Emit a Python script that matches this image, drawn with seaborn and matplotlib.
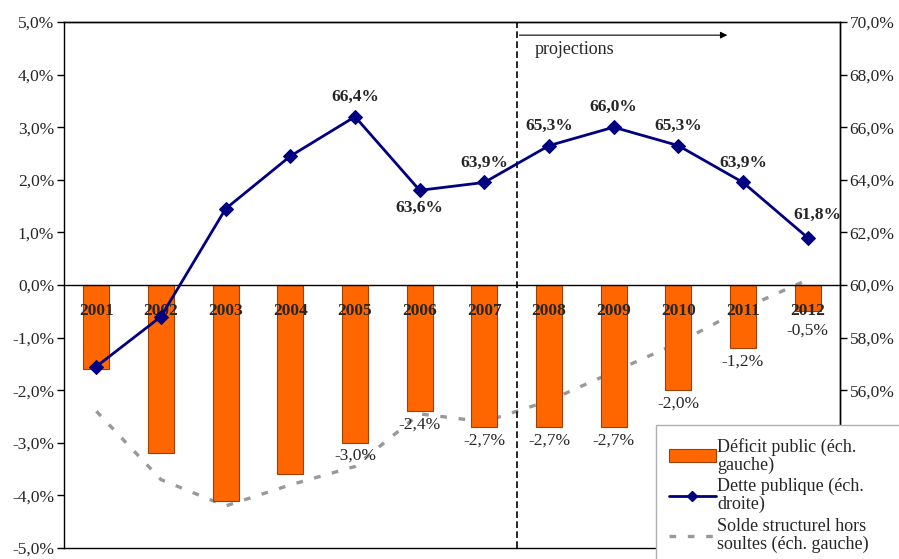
import matplotlib
matplotlib.use("Agg")
import matplotlib.pyplot as plt
import matplotlib.ticker as ticker
from matplotlib.patches import Patch
from matplotlib.lines import Line2D
import seaborn as sns
import pandas as pd
import numpy as np

years = ["2001", "2002", "2003", "2004", "2005", "2006",
         "2007", "2008", "2009", "2010", "2011", "2012"]
deficit = [-1.6, -3.2, -4.1, -3.6, -3.0, -2.4, -2.7, -2.7, -2.7, -2.0, -1.2, -0.5]
dette = [56.9, 58.8, 62.9, 64.9, 66.4, 63.6, 63.9, 65.3, 66.0, 65.3, 63.9, 61.8]
solde = [-2.4, -3.7, -4.2, -3.8, -3.45, -2.45, -2.6, -2.2, -1.65, -1.1, -0.45, 0.1]

# which points get a value label
deficit_labelled = ["2005", "2006", "2007", "2008", "2009", "2010", "2011", "2012"]
dette_labelled = ["2005", "2006", "2007", "2008", "2009", "2010", "2011", "2012"]
dette_below = ["2006"]

ORANGE = "#FF6600"
NAVY = "#000080"
GREY = "#999999"
FS = 12.5

sns.set_style("white")
plt.rcParams["font.family"] = ["Liberation Serif", "DejaVu Serif"]

df = pd.DataFrame({"annee": years, "deficit": deficit, "dette": dette, "solde": solde})


def pct(v, pos):
    return ("%.1f%%" % v).replace(".", ",")


def pct_right(v, pos):
    # the lowest right-hand labels sit under the legend box
    if v < 55:
        return ""
    return pct(v, pos)


fig = plt.figure(figsize=(8.99, 5.59), dpi=100)
ax = fig.add_axes([64 / 899, 1 - 548 / 559, (840 - 64) / 899, (548 - 22) / 559])

# structural balance, behind the bars
sns.lineplot(data=df, x="annee", y="solde", ax=ax, color=GREY, lw=2.4,
             sort=False, zorder=0.5)
ax.lines[-1].set_dashes([2, 3.5])

sns.barplot(data=df, x="annee", y="deficit", ax=ax, color=ORANGE, width=0.4,
            edgecolor="#a04000", linewidth=0.8, saturation=1, zorder=1)

ax.set_xlim(-0.5, 11.5)
ax.set_ylim(-5, 5)
ax.set_xlabel("")
ax.set_ylabel("")
ax.yaxis.set_major_locator(ticker.MultipleLocator(1))
ax.yaxis.set_major_formatter(ticker.FuncFormatter(pct))
ax.set_xticks(np.arange(0.5, 11, 1))
ax.set_xticklabels([])
ax.tick_params(axis="x", direction="inout", length=10, width=1, color="black")
ax.tick_params(axis="y", direction="out", length=5, width=1, color="black",
               labelsize=FS, left=True, pad=2)
ax.spines["bottom"].set_position(("data", 0))
for s in ax.spines.values():
    s.set_color("black")
    s.set_linewidth(1)

# year labels inside the bars
for i, y in enumerate(years):
    ax.text(i, -0.5, y, ha="center", va="center", fontsize=FS, fontweight="bold")

# deficit value labels under bar ends
for i, y in enumerate(years):
    if y in deficit_labelled:
        off = 0.22 if y == "2012" else 0.1
        ax.text(i, deficit[i] - off, pct(deficit[i], None), ha="center", va="top",
                fontsize=FS)

# projections marker
ax.axvline(6.5, color="black", lw=1.2, ls=(0, (4, 2)))
ax.annotate("", xy=(9.8, 4.75), xytext=(6.5, 4.75),
            arrowprops=dict(arrowstyle="-|>", color="black", lw=0.8,
                            mutation_scale=10))
ax.text(6.78, 4.48, "projections", ha="left", va="center", fontsize=13)

# debt on the right axis
ax2 = ax.twinx()
sns.lineplot(data=df, x="annee", y="dette", ax=ax2, color=NAVY, lw=2,
             marker="D", markersize=7, markeredgecolor=NAVY, sort=False)
ax2.set_ylim(50, 70)
ax2.set_ylabel("")
ax2.yaxis.set_major_locator(ticker.MultipleLocator(2))
ax2.yaxis.set_major_formatter(ticker.FuncFormatter(pct_right))
ax2.tick_params(axis="y", direction="out", length=5, width=1, color="black",
                labelsize=FS, right=True, pad=2)
for s in ax2.spines.values():
    s.set_color("black")
    s.set_linewidth(1)
ax2.spines["left"].set_visible(False)

for i, y in enumerate(years):
    if y in dette_labelled:
        if y in dette_below:
            ax2.text(i, dette[i] - 0.35, pct(dette[i], None), ha="center", va="top",
                     fontsize=FS, fontweight="bold")
        elif y == "2012":
            ax2.text(i + 0.15, dette[i] + 0.55, pct(dette[i], None), ha="center",
                     va="bottom", fontsize=FS, fontweight="bold")
        else:
            ax2.text(i, dette[i] + 0.45, pct(dette[i], None), ha="center",
                     va="bottom", fontsize=FS, fontweight="bold")

handles = [
    Patch(facecolor=ORANGE, edgecolor="#a04000", linewidth=0.8),
    Line2D([], [], color=NAVY, lw=2, marker="D", markersize=5),
    Line2D([], [], color=GREY, lw=2.4, dashes=[2, 3.5]),
]
labels = ["Déficit public (éch.\ngauche)", "Dette publique (éch.\ndroite)",
          "Solde structurel hors\nsoultes (éch. gauche)"]
leg = fig.legend(handles, labels, loc="upper left",
                 bbox_to_anchor=(656 / 899, 0, 0.3, 1 - 425 / 559), mode="expand",
                 fontsize=13, frameon=True, fancybox=False, framealpha=1,
                 edgecolor="#b0b0b0", borderpad=0.7, labelspacing=0.25,
                 handlelength=2.6, handletextpad=0.1, borderaxespad=0)
leg.get_frame().set_linewidth(1)
for t in leg.get_texts():
    t.set_linespacing(1.05)

fig.savefig("out.png", dpi=100)
